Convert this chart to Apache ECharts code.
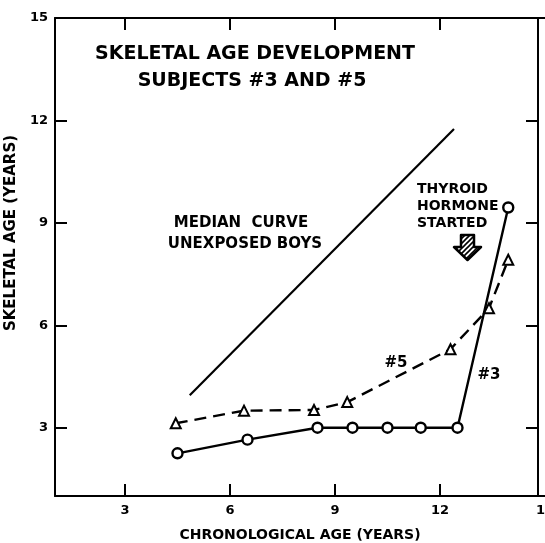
<!DOCTYPE html>
<html><head><meta charset="utf-8">
<script src="https://cdn.jsdelivr.net/npm/echarts@6/dist/echarts.min.js"></script>
<style>html,body{margin:0;padding:0;background:#fff}#c{width:545px;height:543px}</style>
</head><body><div id="c"></div>
<script>
// ---- data ----
const xTickLabels = [3, 6, 9, 12, 15];
const yTickLabels = [3, 6, 9, 12, 15];
const medianX = [4.85, 12.4];
const medianY = [3.95, 11.75];
const s3X = [4.5, 6.5, 8.5, 9.5, 10.5, 11.45, 12.5, 13.95];
const s3Y = [2.25, 2.65, 3.0, 3.0, 3.0, 3.0, 3.0, 9.45];
const s5X = [4.45, 6.4, 8.4, 9.35, 12.3, 13.4, 13.95];
const s5Y = [3.13, 3.5, 3.52, 3.75, 5.3, 6.5, 7.92];

const pairs = (xs, ys) => xs.map((x, i) => [x, ys[i]]);
const FONT = 'DejaVu Sans';

// hatch pattern for arrow
const pc = document.createElement('canvas');
pc.width = 5; pc.height = 5;
const g = pc.getContext('2d');
g.fillStyle = '#fff'; g.fillRect(0, 0, 5, 5);
g.strokeStyle = '#000'; g.lineWidth = 1.6;
g.beginPath(); g.moveTo(0, 5); g.lineTo(5, 0); g.moveTo(-1, 1); g.lineTo(1, -1); g.moveTo(4, 6); g.lineTo(6, 4); g.stroke();

const chart = echarts.init(document.getElementById('c'), null, {renderer: 'canvas'});
const axisCommon = (ticks) => ({
  type: 'value', min: 1, max: 15,
  splitLine: {show: false},
  axisLine: {show: true, onZero: false, lineStyle: {color: '#000', width: 2}},
  axisTick: {show: true, inside: true, length: 12, customValues: ticks, lineStyle: {color: '#000', width: 2}},
});
const labelStyle = {color: '#000', fontFamily: FONT, fontWeight: 'bold', fontSize: 13, margin: 8};

chart.setOption({
  animation: false,
  backgroundColor: '#fff',
  grid: {left: 55, top: 18, right: 0, bottom: 47, containLabel: false, outerBoundsMode: 'none'},
  xAxis: [
    Object.assign(axisCommon(xTickLabels.slice(0, 4)), {
      position: 'bottom',
      name: 'CHRONOLOGICAL AGE (YEARS)', nameLocation: 'middle', nameGap: 32,
      nameTextStyle: {color: '#000', fontFamily: FONT, fontWeight: 'bold', fontSize: 14},
      axisLabel: Object.assign({}, labelStyle, {customValues: xTickLabels})
    }),
    Object.assign(axisCommon(xTickLabels.slice(0, 4)), {position: 'top', axisLabel: {show: false}})
  ],
  yAxis: [
    Object.assign(axisCommon(yTickLabels.slice(0, 4)), {
      position: 'left',
      name: 'SKELETAL AGE (YEARS)', nameLocation: 'middle', nameGap: 31,
      nameTextStyle: {color: '#000', fontFamily: FONT, fontWeight: 'bold', fontSize: 15, padding: [0, 0, 0, 48]},
      axisLabel: Object.assign({}, labelStyle, {customValues: yTickLabels, margin: 7})
    }),
    Object.assign(axisCommon(yTickLabels.slice(0, 4)), {position: 'right', offset: -7, axisLabel: {show: false}})
  ],
  series: [
    {
      name: 'Median', type: 'line', data: pairs(medianX, medianY),
      showSymbol: false, symbol: 'none',
      lineStyle: {color: '#000', width: 2.2}
    },
    {
      name: '#5', type: 'line', data: pairs(s5X, s5Y),
      symbol: 'triangle', symbolSize: 10,
      itemStyle: {color: '#fff', borderColor: '#000', borderWidth: 2},
      lineStyle: {color: '#000', width: 2.4, type: [12, 7]}
    },
    {
      name: '#3', type: 'line', data: pairs(s3X, s3Y),
      symbol: 'circle', symbolSize: 10,
      itemStyle: {color: '#fff', borderColor: '#000', borderWidth: 2.4},
      lineStyle: {color: '#000', width: 2.4}
    }
  ],
  graphic: [
    {type: 'text', x: 255, y: 54, style: {text: 'SKELETAL AGE DEVELOPMENT', font: 'bold 19px "DejaVu Sans"', fill: '#000', textAlign: 'center', textVerticalAlign: 'middle'}},
    {type: 'text', x: 252, y: 81, style: {text: 'SUBJECTS #3 AND #5', font: 'bold 19px "DejaVu Sans"', fill: '#000', textAlign: 'center', textVerticalAlign: 'middle'}},
    {type: 'text', x: 241, y: 223, style: {text: 'MEDIAN  CURVE', font: 'bold 15px "DejaVu Sans"', fill: '#000', textAlign: 'center', textVerticalAlign: 'middle'}},
    {type: 'text', x: 245, y: 244, style: {text: 'UNEXPOSED BOYS', font: 'bold 15px "DejaVu Sans"', fill: '#000', textAlign: 'center', textVerticalAlign: 'middle'}},
    {type: 'text', x: 417, y: 189, style: {text: 'THYROID', font: 'bold 14px "DejaVu Sans"', fill: '#000', textAlign: 'left', textVerticalAlign: 'middle'}},
    {type: 'text', x: 417, y: 206, style: {text: 'HORMONE', font: 'bold 14px "DejaVu Sans"', fill: '#000', textAlign: 'left', textVerticalAlign: 'middle'}},
    {type: 'text', x: 417, y: 223, style: {text: 'STARTED', font: 'bold 14px "DejaVu Sans"', fill: '#000', textAlign: 'left', textVerticalAlign: 'middle'}},
    {type: 'text', x: 396, y: 363, style: {text: '#5', font: 'bold 15px "DejaVu Sans"', fill: '#000', textAlign: 'center', textVerticalAlign: 'middle'}},
    {type: 'text', x: 489, y: 375, style: {text: '#3', font: 'bold 15px "DejaVu Sans"', fill: '#000', textAlign: 'center', textVerticalAlign: 'middle'}},
    {type: 'polygon', shape: {points: [[461, 235], [474, 235], [474, 247], [481, 247], [467.5, 260], [454, 247], [461, 247]]},
     style: {fill: {image: pc, repeat: 'repeat'}, stroke: '#000', lineWidth: 2.5, lineJoin: 'round'}}
  ]
});
</script></body></html>
